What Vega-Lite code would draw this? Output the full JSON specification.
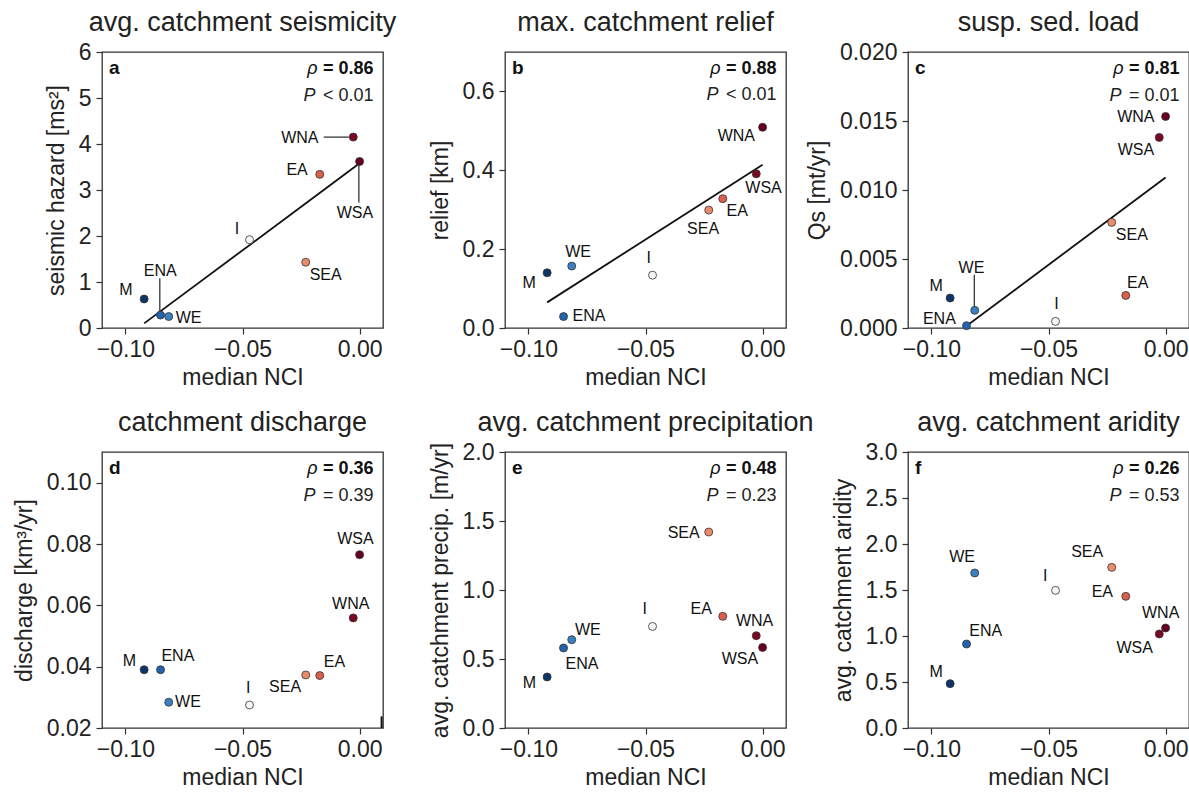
{
  "$schema": "https://vega.github.io/schema/vega-lite/v6.json",
  "background": "white",
  "padding": {"left": 12, "top": 8, "right": 2, "bottom": 2},
  "datasets": {
    "pts": [
      {"panel":"a","region":"M","nci":-0.092,"val":0.63,"lx":-0.0998,"ly":0.82},
      {"panel":"a","region":"ENA","nci":-0.085,"val":0.28,"lx":-0.0851,"ly":1.25},
      {"panel":"a","region":"WE","nci":-0.0815,"val":0.25,"lx":-0.0730,"ly":0.21},
      {"panel":"a","region":"I","nci":-0.047,"val":1.92,"lx":-0.0524,"ly":2.15},
      {"panel":"a","region":"SEA","nci":-0.023,"val":1.43,"lx":-0.0145,"ly":1.15},
      {"panel":"a","region":"EA","nci":-0.017,"val":3.34,"lx":-0.0267,"ly":3.44},
      {"panel":"a","region":"WNA","nci":-0.0027,"val":4.15,"lx":-0.0255,"ly":4.14},
      {"panel":"a","region":"WSA","nci":0.0,"val":3.62,"lx":-0.0020,"ly":2.49},
      {"panel":"b","region":"M","nci":-0.092,"val":0.140,"lx":-0.0997,"ly":0.114},
      {"panel":"b","region":"WE","nci":-0.0815,"val":0.157,"lx":-0.0788,"ly":0.193},
      {"panel":"b","region":"ENA","nci":-0.085,"val":0.029,"lx":-0.0741,"ly":0.031},
      {"panel":"b","region":"I","nci":-0.047,"val":0.134,"lx":-0.0486,"ly":0.177},
      {"panel":"b","region":"SEA","nci":-0.023,"val":0.299,"lx":-0.0254,"ly":0.250},
      {"panel":"b","region":"EA","nci":-0.017,"val":0.328,"lx":-0.0108,"ly":0.297},
      {"panel":"b","region":"WSA","nci":-0.0027,"val":0.391,"lx":0.0004,"ly":0.356},
      {"panel":"b","region":"WNA","nci":0.0,"val":0.509,"lx":-0.0112,"ly":0.486},
      {"panel":"c","region":"M","nci":-0.092,"val":0.00217,"lx":-0.0980,"ly":0.00301},
      {"panel":"c","region":"WE","nci":-0.0815,"val":0.00128,"lx":-0.0829,"ly":0.00435},
      {"panel":"c","region":"ENA","nci":-0.085,"val":0.00017,"lx":-0.0966,"ly":0.00067},
      {"panel":"c","region":"I","nci":-0.047,"val":0.00048,"lx":-0.0466,"ly":0.00176},
      {"panel":"c","region":"SEA","nci":-0.023,"val":0.00765,"lx":-0.0144,"ly":0.00676},
      {"panel":"c","region":"EA","nci":-0.017,"val":0.00236,"lx":-0.0119,"ly":0.00326},
      {"panel":"c","region":"WSA","nci":-0.0027,"val":0.01381,"lx":-0.0127,"ly":0.01287},
      {"panel":"c","region":"WNA","nci":0.0,"val":0.01533,"lx":-0.0127,"ly":0.01529},
      {"panel":"d","region":"M","nci":-0.092,"val":0.0390,"lx":-0.0983,"ly":0.0418},
      {"panel":"d","region":"ENA","nci":-0.085,"val":0.0390,"lx":-0.0776,"ly":0.0434},
      {"panel":"d","region":"WE","nci":-0.0815,"val":0.0284,"lx":-0.0733,"ly":0.0284},
      {"panel":"d","region":"I","nci":-0.047,"val":0.0275,"lx":-0.0476,"ly":0.0331},
      {"panel":"d","region":"SEA","nci":-0.023,"val":0.0373,"lx":-0.0318,"ly":0.0334},
      {"panel":"d","region":"EA","nci":-0.017,"val":0.0371,"lx":-0.0107,"ly":0.0414},
      {"panel":"d","region":"WNA","nci":-0.0027,"val":0.0559,"lx":-0.0038,"ly":0.0603},
      {"panel":"d","region":"WSA","nci":0.0,"val":0.0765,"lx":-0.0018,"ly":0.0816},
      {"panel":"e","region":"M","nci":-0.092,"val":0.370,"lx":-0.0996,"ly":0.326},
      {"panel":"e","region":"ENA","nci":-0.085,"val":0.580,"lx":-0.0771,"ly":0.466},
      {"panel":"e","region":"WE","nci":-0.0815,"val":0.640,"lx":-0.0746,"ly":0.712},
      {"panel":"e","region":"I","nci":-0.047,"val":0.736,"lx":-0.0503,"ly":0.862},
      {"panel":"e","region":"SEA","nci":-0.023,"val":1.420,"lx":-0.0337,"ly":1.413},
      {"panel":"e","region":"EA","nci":-0.017,"val":0.809,"lx":-0.0262,"ly":0.862},
      {"panel":"e","region":"WNA","nci":-0.0027,"val":0.669,"lx":-0.0034,"ly":0.773},
      {"panel":"e","region":"WSA","nci":0.0,"val":0.584,"lx":-0.0097,"ly":0.500},
      {"panel":"f","region":"M","nci":-0.092,"val":0.482,"lx":-0.0980,"ly":0.604},
      {"panel":"f","region":"ENA","nci":-0.085,"val":0.913,"lx":-0.0768,"ly":1.05},
      {"panel":"f","region":"WE","nci":-0.0815,"val":1.685,"lx":-0.0869,"ly":1.859},
      {"panel":"f","region":"I","nci":-0.047,"val":1.496,"lx":-0.0514,"ly":1.648},
      {"panel":"f","region":"SEA","nci":-0.023,"val":1.746,"lx":-0.0335,"ly":1.909},
      {"panel":"f","region":"EA","nci":-0.017,"val":1.431,"lx":-0.0270,"ly":1.474},
      {"panel":"f","region":"WSA","nci":-0.0027,"val":1.022,"lx":-0.0132,"ly":0.870},
      {"panel":"f","region":"WNA","nci":0.0,"val":1.087,"lx":-0.0021,"ly":1.25}
    ],
    "fits": [
      {"panel":"a","nci":-0.092,"val":0.10},
      {"panel":"a","nci":0.0,"val":3.58},
      {"panel":"b","nci":-0.092,"val":0.065},
      {"panel":"b","nci":0.0,"val":0.414},
      {"panel":"c","nci":-0.0862,"val":0.0},
      {"panel":"c","nci":0.0,"val":0.0109}
    ],
    "leaders": [
      {"panel":"a","x1":-0.0153,"y1":4.15,"x2":-0.0046,"y2":4.15},
      {"panel":"a","x1":-0.0003,"y1":3.57,"x2":-0.0003,"y2":2.73},
      {"panel":"a","x1":-0.0853,"y1":1.08,"x2":-0.0853,"y2":0.33},
      {"panel":"c","x1":-0.0817,"y1":0.00386,"x2":-0.0817,"y2":0.00145},
      {"panel":"d","x1":0.0094,"y1":0.02,"x2":0.0094,"y2":0.0238}
    ],
    "stats": [
      {"panel":"a","letter":"a","rho":"= 0.86","p":"< 0.01"},
      {"panel":"b","letter":"b","rho":"= 0.88","p":"< 0.01"},
      {"panel":"c","letter":"c","rho":"= 0.81","p":"= 0.01"},
      {"panel":"d","letter":"d","rho":"= 0.36","p":"= 0.39"},
      {"panel":"e","letter":"e","rho":"= 0.48","p":"= 0.23"},
      {"panel":"f","letter":"f","rho":"= 0.26","p":"= 0.53"}
    ]
  },
  "columns": 3,
  "bounds": "flush",
  "spacing": {"row": 124, "column": 122},
  "concat": [
    {
      "width": 281, "height": 276,
      "title": {"text": "avg. catchment seismicity", "offset": 4},
      "layer": [
        {"data": {"name": "fits"}, "transform": [{"filter": "datum.panel === 'a'"}],
         "mark": {"type": "line", "color": "#111111", "strokeWidth": 1.8, "clip": true},
         "encoding": {
           "x": {"field": "nci", "type": "quantitative", "scale": {"domain": [-0.11, 0.01], "nice": false, "zero": false}, "axis": {"title": "median NCI", "values": [-0.1, -0.05, 0], "format": ".2f"}},
           "y": {"field": "val", "type": "quantitative", "scale": {"domain": [0, 6], "nice": false, "zero": false}, "axis": {"title": "seismic hazard [ms²]", "values": [0, 1, 2, 3, 4, 5, 6], "format": "d"}}
         }},
        {"data": {"name": "leaders"}, "transform": [{"filter": "datum.panel === 'a'"}],
         "mark": {"type": "rule", "color": "#111111", "strokeWidth": 1.1},
         "encoding": {"x": {"field": "x1", "type": "quantitative"}, "y": {"field": "y1", "type": "quantitative"}, "x2": {"field": "x2"}, "y2": {"field": "y2"}}},
        {"data": {"name": "pts"}, "transform": [{"filter": "datum.panel === 'a'"}],
         "mark": {"type": "circle", "size": 64, "stroke": "#333333", "strokeWidth": 0.8, "opacity": 1},
         "encoding": {"x": {"field": "nci", "type": "quantitative"}, "y": {"field": "val", "type": "quantitative"},
           "color": {"field": "nci", "type": "quantitative", "legend": null, "scale": {"domain": [-0.092, -0.085, -0.0815, -0.047, -0.023, -0.017, -0.0027, 0.0], "range": ["#0c3568", "#2363ac", "#3a7fc1", "#f5f5f5", "#ec8a6c", "#d9604c", "#7a0822", "#67001f"]}}}},
        {"data": {"name": "pts"}, "transform": [{"filter": "datum.panel === 'a'"}],
         "mark": {"type": "text", "fontSize": 16, "align": "center", "baseline": "middle", "color": "#111111"},
         "encoding": {"x": {"field": "lx", "type": "quantitative"}, "y": {"field": "ly", "type": "quantitative"}, "text": {"field": "region"}}},
        {"data": {"name": "stats"}, "transform": [{"filter": "datum.panel === 'a'"}],
         "mark": {"type": "text", "fontSize": 19, "fontWeight": "bold", "align": "left", "baseline": "alphabetic", "color": "#111111"},
         "encoding": {"x": {"datum": -0.107, "type": "quantitative"}, "y": {"datum": 5.52, "type": "quantitative"}, "text": {"field": "letter"}}},
        {"data": {"name": "stats"}, "transform": [{"filter": "datum.panel === 'a'"}],
         "mark": {"type": "text", "fontSize": 18, "fontWeight": "bold", "align": "right", "baseline": "alphabetic", "color": "#111111"},
         "encoding": {"x": {"datum": 0.006, "type": "quantitative"}, "y": {"datum": 5.52, "type": "quantitative"}, "text": {"field": "rho"}}},
        {"data": {"name": "stats"}, "transform": [{"filter": "datum.panel === 'a'"}],
         "mark": {"type": "text", "fontSize": 18, "fontStyle": "italic", "align": "right", "baseline": "alphabetic", "color": "#111111", "dx": -56, "text": "ρ"},
         "encoding": {"x": {"datum": 0.006, "type": "quantitative"}, "y": {"datum": 5.52, "type": "quantitative"}}},
        {"data": {"name": "stats"}, "transform": [{"filter": "datum.panel === 'a'"}],
         "mark": {"type": "text", "fontSize": 18, "align": "right", "baseline": "alphabetic", "color": "#222222"},
         "encoding": {"x": {"datum": 0.006, "type": "quantitative"}, "y": {"datum": 4.94, "type": "quantitative"}, "text": {"field": "p"}}},
        {"data": {"name": "stats"}, "transform": [{"filter": "datum.panel === 'a'"}],
         "mark": {"type": "text", "fontSize": 18, "fontStyle": "italic", "align": "right", "baseline": "alphabetic", "color": "#222222", "dx": -58, "text": "P"},
         "encoding": {"x": {"datum": 0.006, "type": "quantitative"}, "y": {"datum": 4.94, "type": "quantitative"}}}
      ]
    },
    {
      "width": 281, "height": 276,
      "title": {"text": "max. catchment relief", "offset": 15},
      "layer": [
        {"data": {"name": "fits"}, "transform": [{"filter": "datum.panel === 'b'"}],
         "mark": {"type": "line", "color": "#111111", "strokeWidth": 1.8, "clip": true},
         "encoding": {
           "x": {"field": "nci", "type": "quantitative", "scale": {"domain": [-0.11, 0.01], "nice": false, "zero": false}, "axis": {"title": "median NCI", "values": [-0.1, -0.05, 0], "format": ".2f"}},
           "y": {"field": "val", "type": "quantitative", "scale": {"domain": [0, 0.7], "nice": false, "zero": false}, "axis": {"title": "relief [km]", "values": [0, 0.2, 0.4, 0.6], "format": ".1f"}}
         }},
        {"data": {"name": "pts"}, "transform": [{"filter": "datum.panel === 'b'"}],
         "mark": {"type": "circle", "size": 64, "stroke": "#333333", "strokeWidth": 0.8, "opacity": 1},
         "encoding": {"x": {"field": "nci", "type": "quantitative"}, "y": {"field": "val", "type": "quantitative"},
           "color": {"field": "nci", "type": "quantitative", "legend": null, "scale": {"domain": [-0.092, -0.085, -0.0815, -0.047, -0.023, -0.017, -0.0027, 0.0], "range": ["#0c3568", "#2363ac", "#3a7fc1", "#f5f5f5", "#ec8a6c", "#d9604c", "#7a0822", "#67001f"]}}}},
        {"data": {"name": "pts"}, "transform": [{"filter": "datum.panel === 'b'"}],
         "mark": {"type": "text", "fontSize": 16, "align": "center", "baseline": "middle", "color": "#111111"},
         "encoding": {"x": {"field": "lx", "type": "quantitative"}, "y": {"field": "ly", "type": "quantitative"}, "text": {"field": "region"}}},
        {"data": {"name": "stats"}, "transform": [{"filter": "datum.panel === 'b'"}],
         "mark": {"type": "text", "fontSize": 19, "fontWeight": "bold", "align": "left", "baseline": "alphabetic", "color": "#111111"},
         "encoding": {"x": {"datum": -0.107, "type": "quantitative"}, "y": {"datum": 0.644, "type": "quantitative"}, "text": {"field": "letter"}}},
        {"data": {"name": "stats"}, "transform": [{"filter": "datum.panel === 'b'"}],
         "mark": {"type": "text", "fontSize": 18, "fontWeight": "bold", "align": "right", "baseline": "alphabetic", "color": "#111111"},
         "encoding": {"x": {"datum": 0.006, "type": "quantitative"}, "y": {"datum": 0.644, "type": "quantitative"}, "text": {"field": "rho"}}},
        {"data": {"name": "stats"}, "transform": [{"filter": "datum.panel === 'b'"}],
         "mark": {"type": "text", "fontSize": 18, "fontStyle": "italic", "align": "right", "baseline": "alphabetic", "color": "#111111", "dx": -56, "text": "ρ"},
         "encoding": {"x": {"datum": 0.006, "type": "quantitative"}, "y": {"datum": 0.644, "type": "quantitative"}}},
        {"data": {"name": "stats"}, "transform": [{"filter": "datum.panel === 'b'"}],
         "mark": {"type": "text", "fontSize": 18, "align": "right", "baseline": "alphabetic", "color": "#222222"},
         "encoding": {"x": {"datum": 0.006, "type": "quantitative"}, "y": {"datum": 0.577, "type": "quantitative"}, "text": {"field": "p"}}},
        {"data": {"name": "stats"}, "transform": [{"filter": "datum.panel === 'b'"}],
         "mark": {"type": "text", "fontSize": 18, "fontStyle": "italic", "align": "right", "baseline": "alphabetic", "color": "#222222", "dx": -58, "text": "P"},
         "encoding": {"x": {"datum": 0.006, "type": "quantitative"}, "y": {"datum": 0.577, "type": "quantitative"}}}
      ]
    },
    {
      "width": 281, "height": 276,
      "title": {"text": "susp. sed. load", "offset": 4},
      "layer": [
        {"data": {"name": "fits"}, "transform": [{"filter": "datum.panel === 'c'"}],
         "mark": {"type": "line", "color": "#111111", "strokeWidth": 1.8, "clip": true},
         "encoding": {
           "x": {"field": "nci", "type": "quantitative", "scale": {"domain": [-0.11, 0.01], "nice": false, "zero": false}, "axis": {"title": "median NCI", "values": [-0.1, -0.05, 0], "format": ".2f"}},
           "y": {"field": "val", "type": "quantitative", "scale": {"domain": [0, 0.02], "nice": false, "zero": false}, "axis": {"title": "Qs [mt/yr]", "values": [0, 0.005, 0.01, 0.015, 0.02], "format": ".3f"}}
         }},
        {"data": {"name": "leaders"}, "transform": [{"filter": "datum.panel === 'c'"}],
         "mark": {"type": "rule", "color": "#111111", "strokeWidth": 1.1},
         "encoding": {"x": {"field": "x1", "type": "quantitative"}, "y": {"field": "y1", "type": "quantitative"}, "x2": {"field": "x2"}, "y2": {"field": "y2"}}},
        {"data": {"name": "pts"}, "transform": [{"filter": "datum.panel === 'c'"}],
         "mark": {"type": "circle", "size": 64, "stroke": "#333333", "strokeWidth": 0.8, "opacity": 1},
         "encoding": {"x": {"field": "nci", "type": "quantitative"}, "y": {"field": "val", "type": "quantitative"},
           "color": {"field": "nci", "type": "quantitative", "legend": null, "scale": {"domain": [-0.092, -0.085, -0.0815, -0.047, -0.023, -0.017, -0.0027, 0.0], "range": ["#0c3568", "#2363ac", "#3a7fc1", "#f5f5f5", "#ec8a6c", "#d9604c", "#7a0822", "#67001f"]}}}},
        {"data": {"name": "pts"}, "transform": [{"filter": "datum.panel === 'c'"}],
         "mark": {"type": "text", "fontSize": 16, "align": "center", "baseline": "middle", "color": "#111111"},
         "encoding": {"x": {"field": "lx", "type": "quantitative"}, "y": {"field": "ly", "type": "quantitative"}, "text": {"field": "region"}}},
        {"data": {"name": "stats"}, "transform": [{"filter": "datum.panel === 'c'"}],
         "mark": {"type": "text", "fontSize": 19, "fontWeight": "bold", "align": "left", "baseline": "alphabetic", "color": "#111111"},
         "encoding": {"x": {"datum": -0.107, "type": "quantitative"}, "y": {"datum": 0.01841, "type": "quantitative"}, "text": {"field": "letter"}}},
        {"data": {"name": "stats"}, "transform": [{"filter": "datum.panel === 'c'"}],
         "mark": {"type": "text", "fontSize": 18, "fontWeight": "bold", "align": "right", "baseline": "alphabetic", "color": "#111111"},
         "encoding": {"x": {"datum": 0.006, "type": "quantitative"}, "y": {"datum": 0.01841, "type": "quantitative"}, "text": {"field": "rho"}}},
        {"data": {"name": "stats"}, "transform": [{"filter": "datum.panel === 'c'"}],
         "mark": {"type": "text", "fontSize": 18, "fontStyle": "italic", "align": "right", "baseline": "alphabetic", "color": "#111111", "dx": -56, "text": "ρ"},
         "encoding": {"x": {"datum": 0.006, "type": "quantitative"}, "y": {"datum": 0.01841, "type": "quantitative"}}},
        {"data": {"name": "stats"}, "transform": [{"filter": "datum.panel === 'c'"}],
         "mark": {"type": "text", "fontSize": 18, "align": "right", "baseline": "alphabetic", "color": "#222222"},
         "encoding": {"x": {"datum": 0.006, "type": "quantitative"}, "y": {"datum": 0.01647, "type": "quantitative"}, "text": {"field": "p"}}},
        {"data": {"name": "stats"}, "transform": [{"filter": "datum.panel === 'c'"}],
         "mark": {"type": "text", "fontSize": 18, "fontStyle": "italic", "align": "right", "baseline": "alphabetic", "color": "#222222", "dx": -58, "text": "P"},
         "encoding": {"x": {"datum": 0.006, "type": "quantitative"}, "y": {"datum": 0.01647, "type": "quantitative"}}}
      ]
    },
    {
      "width": 281, "height": 276,
      "title": {"text": "catchment discharge", "offset": 15},
      "layer": [
        {"data": {"name": "leaders"}, "transform": [{"filter": "datum.panel === 'd'"}],
         "mark": {"type": "rule", "color": "#111111", "strokeWidth": 2},
         "encoding": {
           "x": {"field": "x1", "type": "quantitative", "scale": {"domain": [-0.11, 0.01], "nice": false, "zero": false}, "axis": {"title": "median NCI", "values": [-0.1, -0.05, 0], "format": ".2f"}},
           "y": {"field": "y1", "type": "quantitative", "scale": {"domain": [0.02, 0.11], "nice": false, "zero": false}, "axis": {"title": "discharge [km³/yr]", "values": [0.02, 0.04, 0.06, 0.08, 0.1], "format": ".2f"}},
           "x2": {"field": "x2"}, "y2": {"field": "y2"}}},
        {"data": {"name": "pts"}, "transform": [{"filter": "datum.panel === 'd'"}],
         "mark": {"type": "circle", "size": 64, "stroke": "#333333", "strokeWidth": 0.8, "opacity": 1},
         "encoding": {"x": {"field": "nci", "type": "quantitative"}, "y": {"field": "val", "type": "quantitative"},
           "color": {"field": "nci", "type": "quantitative", "legend": null, "scale": {"domain": [-0.092, -0.085, -0.0815, -0.047, -0.023, -0.017, -0.0027, 0.0], "range": ["#0c3568", "#2363ac", "#3a7fc1", "#f5f5f5", "#ec8a6c", "#d9604c", "#7a0822", "#67001f"]}}}},
        {"data": {"name": "pts"}, "transform": [{"filter": "datum.panel === 'd'"}],
         "mark": {"type": "text", "fontSize": 16, "align": "center", "baseline": "middle", "color": "#111111"},
         "encoding": {"x": {"field": "lx", "type": "quantitative"}, "y": {"field": "ly", "type": "quantitative"}, "text": {"field": "region"}}},
        {"data": {"name": "stats"}, "transform": [{"filter": "datum.panel === 'd'"}],
         "mark": {"type": "text", "fontSize": 19, "fontWeight": "bold", "align": "left", "baseline": "alphabetic", "color": "#111111"},
         "encoding": {"x": {"datum": -0.107, "type": "quantitative"}, "y": {"datum": 0.1028, "type": "quantitative"}, "text": {"field": "letter"}}},
        {"data": {"name": "stats"}, "transform": [{"filter": "datum.panel === 'd'"}],
         "mark": {"type": "text", "fontSize": 18, "fontWeight": "bold", "align": "right", "baseline": "alphabetic", "color": "#111111"},
         "encoding": {"x": {"datum": 0.006, "type": "quantitative"}, "y": {"datum": 0.1028, "type": "quantitative"}, "text": {"field": "rho"}}},
        {"data": {"name": "stats"}, "transform": [{"filter": "datum.panel === 'd'"}],
         "mark": {"type": "text", "fontSize": 18, "fontStyle": "italic", "align": "right", "baseline": "alphabetic", "color": "#111111", "dx": -56, "text": "ρ"},
         "encoding": {"x": {"datum": 0.006, "type": "quantitative"}, "y": {"datum": 0.1028, "type": "quantitative"}}},
        {"data": {"name": "stats"}, "transform": [{"filter": "datum.panel === 'd'"}],
         "mark": {"type": "text", "fontSize": 18, "align": "right", "baseline": "alphabetic", "color": "#222222"},
         "encoding": {"x": {"datum": 0.006, "type": "quantitative"}, "y": {"datum": 0.0941, "type": "quantitative"}, "text": {"field": "p"}}},
        {"data": {"name": "stats"}, "transform": [{"filter": "datum.panel === 'd'"}],
         "mark": {"type": "text", "fontSize": 18, "fontStyle": "italic", "align": "right", "baseline": "alphabetic", "color": "#222222", "dx": -58, "text": "P"},
         "encoding": {"x": {"datum": 0.006, "type": "quantitative"}, "y": {"datum": 0.0941, "type": "quantitative"}}}
      ]
    },
    {
      "width": 281, "height": 276,
      "title": {"text": "avg. catchment precipitation", "offset": 4},
      "layer": [
        {"data": {"name": "pts"}, "transform": [{"filter": "datum.panel === 'e'"}],
         "mark": {"type": "circle", "size": 64, "stroke": "#333333", "strokeWidth": 0.8, "opacity": 1},
         "encoding": {
           "x": {"field": "nci", "type": "quantitative", "scale": {"domain": [-0.11, 0.01], "nice": false, "zero": false}, "axis": {"title": "median NCI", "values": [-0.1, -0.05, 0], "format": ".2f"}},
           "y": {"field": "val", "type": "quantitative", "scale": {"domain": [0, 2], "nice": false, "zero": false}, "axis": {"title": "avg. catchment precip. [m/yr]", "values": [0, 0.5, 1, 1.5, 2], "format": ".1f"}},
           "color": {"field": "nci", "type": "quantitative", "legend": null, "scale": {"domain": [-0.092, -0.085, -0.0815, -0.047, -0.023, -0.017, -0.0027, 0.0], "range": ["#0c3568", "#2363ac", "#3a7fc1", "#f5f5f5", "#ec8a6c", "#d9604c", "#7a0822", "#67001f"]}}}},
        {"data": {"name": "pts"}, "transform": [{"filter": "datum.panel === 'e'"}],
         "mark": {"type": "text", "fontSize": 16, "align": "center", "baseline": "middle", "color": "#111111"},
         "encoding": {"x": {"field": "lx", "type": "quantitative"}, "y": {"field": "ly", "type": "quantitative"}, "text": {"field": "region"}}},
        {"data": {"name": "stats"}, "transform": [{"filter": "datum.panel === 'e'"}],
         "mark": {"type": "text", "fontSize": 19, "fontWeight": "bold", "align": "left", "baseline": "alphabetic", "color": "#111111"},
         "encoding": {"x": {"datum": -0.107, "type": "quantitative"}, "y": {"datum": 1.841, "type": "quantitative"}, "text": {"field": "letter"}}},
        {"data": {"name": "stats"}, "transform": [{"filter": "datum.panel === 'e'"}],
         "mark": {"type": "text", "fontSize": 18, "fontWeight": "bold", "align": "right", "baseline": "alphabetic", "color": "#111111"},
         "encoding": {"x": {"datum": 0.006, "type": "quantitative"}, "y": {"datum": 1.841, "type": "quantitative"}, "text": {"field": "rho"}}},
        {"data": {"name": "stats"}, "transform": [{"filter": "datum.panel === 'e'"}],
         "mark": {"type": "text", "fontSize": 18, "fontStyle": "italic", "align": "right", "baseline": "alphabetic", "color": "#111111", "dx": -56, "text": "ρ"},
         "encoding": {"x": {"datum": 0.006, "type": "quantitative"}, "y": {"datum": 1.841, "type": "quantitative"}}},
        {"data": {"name": "stats"}, "transform": [{"filter": "datum.panel === 'e'"}],
         "mark": {"type": "text", "fontSize": 18, "align": "right", "baseline": "alphabetic", "color": "#222222"},
         "encoding": {"x": {"datum": 0.006, "type": "quantitative"}, "y": {"datum": 1.647, "type": "quantitative"}, "text": {"field": "p"}}},
        {"data": {"name": "stats"}, "transform": [{"filter": "datum.panel === 'e'"}],
         "mark": {"type": "text", "fontSize": 18, "fontStyle": "italic", "align": "right", "baseline": "alphabetic", "color": "#222222", "dx": -58, "text": "P"},
         "encoding": {"x": {"datum": 0.006, "type": "quantitative"}, "y": {"datum": 1.647, "type": "quantitative"}}}
      ]
    },
    {
      "width": 281, "height": 276,
      "title": {"text": "avg. catchment aridity", "offset": 4},
      "layer": [
        {"data": {"name": "pts"}, "transform": [{"filter": "datum.panel === 'f'"}],
         "mark": {"type": "circle", "size": 64, "stroke": "#333333", "strokeWidth": 0.8, "opacity": 1},
         "encoding": {
           "x": {"field": "nci", "type": "quantitative", "scale": {"domain": [-0.11, 0.01], "nice": false, "zero": false}, "axis": {"title": "median NCI", "values": [-0.1, -0.05, 0], "format": ".2f"}},
           "y": {"field": "val", "type": "quantitative", "scale": {"domain": [0, 3], "nice": false, "zero": false}, "axis": {"title": "avg. catchment aridity", "values": [0, 0.5, 1, 1.5, 2, 2.5, 3], "format": ".1f"}},
           "color": {"field": "nci", "type": "quantitative", "legend": null, "scale": {"domain": [-0.092, -0.085, -0.0815, -0.047, -0.023, -0.017, -0.0027, 0.0], "range": ["#0c3568", "#2363ac", "#3a7fc1", "#f5f5f5", "#ec8a6c", "#d9604c", "#7a0822", "#67001f"]}}}},
        {"data": {"name": "pts"}, "transform": [{"filter": "datum.panel === 'f'"}],
         "mark": {"type": "text", "fontSize": 16, "align": "center", "baseline": "middle", "color": "#111111"},
         "encoding": {"x": {"field": "lx", "type": "quantitative"}, "y": {"field": "ly", "type": "quantitative"}, "text": {"field": "region"}}},
        {"data": {"name": "stats"}, "transform": [{"filter": "datum.panel === 'f'"}],
         "mark": {"type": "text", "fontSize": 19, "fontWeight": "bold", "align": "left", "baseline": "alphabetic", "color": "#111111"},
         "encoding": {"x": {"datum": -0.107, "type": "quantitative"}, "y": {"datum": 2.761, "type": "quantitative"}, "text": {"field": "letter"}}},
        {"data": {"name": "stats"}, "transform": [{"filter": "datum.panel === 'f'"}],
         "mark": {"type": "text", "fontSize": 18, "fontWeight": "bold", "align": "right", "baseline": "alphabetic", "color": "#111111"},
         "encoding": {"x": {"datum": 0.006, "type": "quantitative"}, "y": {"datum": 2.761, "type": "quantitative"}, "text": {"field": "rho"}}},
        {"data": {"name": "stats"}, "transform": [{"filter": "datum.panel === 'f'"}],
         "mark": {"type": "text", "fontSize": 18, "fontStyle": "italic", "align": "right", "baseline": "alphabetic", "color": "#111111", "dx": -56, "text": "ρ"},
         "encoding": {"x": {"datum": 0.006, "type": "quantitative"}, "y": {"datum": 2.761, "type": "quantitative"}}},
        {"data": {"name": "stats"}, "transform": [{"filter": "datum.panel === 'f'"}],
         "mark": {"type": "text", "fontSize": 18, "align": "right", "baseline": "alphabetic", "color": "#222222"},
         "encoding": {"x": {"datum": 0.006, "type": "quantitative"}, "y": {"datum": 2.471, "type": "quantitative"}, "text": {"field": "p"}}},
        {"data": {"name": "stats"}, "transform": [{"filter": "datum.panel === 'f'"}],
         "mark": {"type": "text", "fontSize": 18, "fontStyle": "italic", "align": "right", "baseline": "alphabetic", "color": "#222222", "dx": -58, "text": "P"},
         "encoding": {"x": {"datum": 0.006, "type": "quantitative"}, "y": {"datum": 2.471, "type": "quantitative"}}}
      ]
    }
  ],
  "config": {
    "font": "Liberation Sans",
    "view": {"stroke": "#333333", "strokeWidth": 1.3},
    "axis": {"grid": false, "domain": false, "tickColor": "#333333", "tickSize": 6, "tickWidth": 1.2, "labelFont": "Liberation Sans", "labelFontSize": 23, "labelColor": "#222222", "labelPadding": 4, "titleFont": "Liberation Sans", "titleFontSize": 23, "titleFontWeight": "normal", "titleColor": "#222222", "titlePadding": 5, "labelFlush": false},
    "axisY": {"titlePadding": 10, "labelPadding": 5},
    "title": {"font": "Liberation Sans", "fontSize": 27, "fontWeight": "normal", "color": "#222222", "frame": "group", "anchor": "middle", "baseline": "alphabetic"},
    "text": {"font": "Liberation Sans"}
  }
}
